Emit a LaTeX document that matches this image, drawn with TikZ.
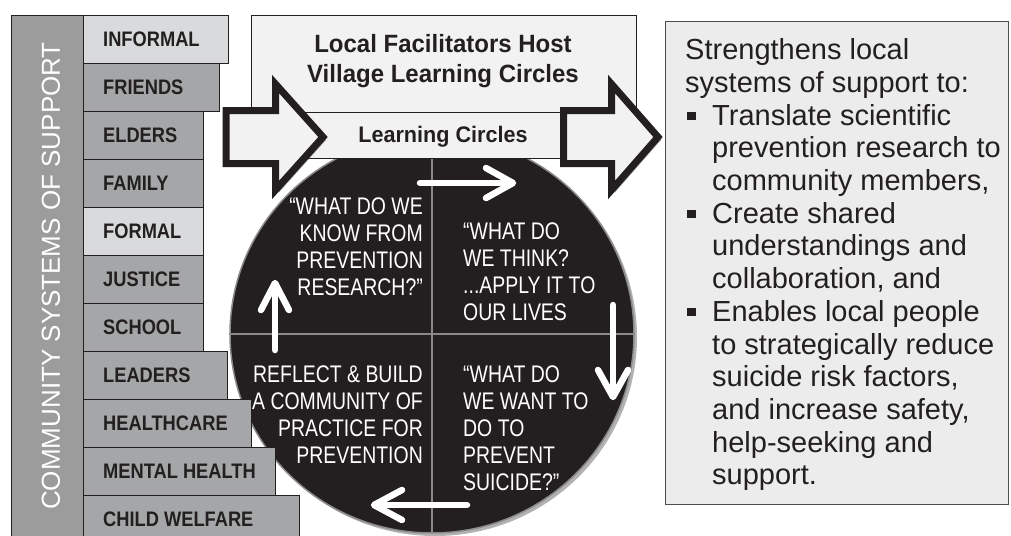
\documentclass[tikz,border=0pt]{standalone}
\usepackage{fontspec}
\setmainfont{Liberation Sans}
\newfontfamily\narrowfont[FakeStretch=0.81]{Liberation Sans}
\newfontfamily\condfont[FakeStretch=0.87]{Liberation Sans}
\newfontfamily\titlefont[FakeStretch=0.96]{Liberation Sans}
\usetikzlibrary{shapes.geometric,shadows}
\definecolor{ink}{HTML}{231F20}
\definecolor{barfill}{HTML}{9C9C9C}
\definecolor{tierdark}{HTML}{A5A6A8}
\definecolor{tierlight}{HTML}{D9DADB}
\definecolor{paper}{HTML}{F2F2F2}
\definecolor{boxfill}{HTML}{ECECEC}
\definecolor{divider}{HTML}{8A8A8A}
\newcommand\mybul{\makebox[27pt][l]{\hspace{2pt}\rule[5pt]{8.5pt}{8.5pt}}}
\newcommand\myind{\hspace*{27pt}}
\begin{document}
\begin{tikzpicture}[x=1pt,y=-1pt,
  tierbox/.style={draw=ink, line width=1.2pt, minimum height=48pt, inner sep=0pt, anchor=north west},
  tiertext/.style={anchor=west, inner sep=0pt, text=ink, font=\condfont\bfseries\fontsize{21}{24}\selectfont},
  quad/.style={text=white, inner sep=0pt, font=\narrowfont\fontsize{24}{27}\selectfont},
  loopar/.style={white, line width=6.5pt, line cap=round, line join=round},
  bigarrow/.style={fill=paper, draw=ink, line width=7pt, line join=miter,
     drop shadow={shadow xshift=3pt, shadow yshift=-3pt, opacity=0.35, fill=black}},
  panel/.style={draw=ink, line width=1.2pt, fill=paper, inner sep=0pt, anchor=north west}]
\useasboundingbox (0,0) rectangle (1011,535);
\fill[white] (0,0) rectangle (1011,535);

% left bar
\node[draw=ink, fill=barfill, line width=1.2pt, minimum width=72pt, minimum height=530pt, inner sep=0pt, anchor=north west] (bar) at (11,15) {};
\node[rotate=90, text=white, inner sep=0pt, font=\fontsize{26}{30}\selectfont] (bartext) at (51,276) {COMMUNITY SYSTEMS OF SUPPORT};

% circle
\node[ellipse, minimum width=404pt, minimum height=398pt, inner sep=0pt, fill=ink, draw=divider, line width=1.5pt,
  drop shadow={shadow xshift=3pt, shadow yshift=-3pt, opacity=0.3, fill=black}] (cyc) at (432,334) {};
\draw[divider, line width=1.5pt] (cyc.north) -- (cyc.south);
\draw[divider, line width=1.5pt] (cyc.west) -- (cyc.east);

\node[quad, align=right, anchor=north east] (q1) at (423,198) {“WHAT DO WE\\KNOW FROM\\PREVENTION\\RESEARCH?”};
\node[quad, align=left, anchor=north west] (q2) at (463,223) {“WHAT DO\\WE THINK?\\...APPLY IT TO\\OUR LIVES};
\node[quad, align=left, anchor=north west] (q3) at (463,366) {“WHAT DO\\WE WANT TO\\DO TO\\PREVENT\\SUICIDE?”};
\node[quad, align=right, anchor=north east] (q4) at (423,366) {REFLECT \& BUILD\\A COMMUNITY OF\\PRACTICE FOR\\PREVENTION};

% loop arrows
\draw[loopar] (420,183) -- (512,183);
\draw[loopar] (486,168) -- (513,183) -- (486,198);
\draw[loopar] (613,305) -- (613,396);
\draw[loopar] (598,370) -- (613,397) -- (628,370);
\draw[loopar] (467,505) -- (375,505);
\draw[loopar] (402,490) -- (374,505) -- (402,520);
\draw[loopar] (275,350) -- (275,284);
\draw[loopar] (261,310) -- (275,283) -- (289,310);

% tiers
\foreach \nm/\lbl/\yy/\ww/\ff in {inf/INFORMAL/15/145/tierlight, fri/FRIENDS/63/136/tierdark,
  eld/ELDERS/111/120/tierdark, fam/FAMILY/159/120/tierdark, frm/FORMAL/207/120/tierlight,
  jus/JUSTICE/255/120/tierdark, sch/SCHOOL/303/120/tierdark, lea/LEADERS/351/144/tierdark,
  hea/HEALTHCARE/399/168/tierdark, men/MENTAL HEALTH/447/192/tierdark, chi/CHILD WELFARE/495/216/tierdark}
{
  \node[tierbox, fill=\ff, minimum width=\ww pt] (\nm) at (83,\yy) {};
  \node[tiertext] (\nm-t) at ([xshift=20pt]\nm.west) {\lbl};
}

% top panel and band
\node[panel, minimum width=385pt, minimum height=97pt] (top) at (251,15) {};
\node[text=ink, align=center, inner sep=0pt, font=\titlefont\bfseries\fontsize{25}{30}\selectfont] (title) at (443,61) {Local Facilitators Host\\Village Learning Circles};
\node[panel, minimum width=385pt, minimum height=46pt] (band) at (251,112) {};
\node[text=ink, inner sep=0pt, font=\titlefont\bfseries\fontsize{22.5}{26}\selectfont] (bandtext) at (443,137) {Learning Circles};

% big arrows
\draw[bigarrow] (226,110.5) -- (275.5,110.5) -- (275.5,84) -- (323,137) -- (275.5,190) -- (275.5,163.5) -- (226,163.5) -- cycle;
\draw[bigarrow] (563.5,110.5) -- (611.5,110.5) -- (611.5,84) -- (658,137) -- (611.5,190) -- (611.5,163.5) -- (563.5,163.5) -- cycle;

% right box
\node[draw=black!70, fill=boxfill, line width=1.2pt, minimum width=343pt, minimum height=483pt, inner sep=0pt, anchor=north west] (rb) at (665,21) {};
\node[anchor=north west, align=left, inner sep=0pt, text=ink, font=\fontsize{29}{32.7}\selectfont] (rt) at (685,38.5)
{Strengthens local\\
systems of support to:\\
\mybul Translate scientific\\
\myind prevention research to\\
\myind community members,\\
\mybul Create shared\\
\myind understandings and\\
\myind collaboration, and\\
\mybul Enables local people\\
\myind to strategically reduce\\
\myind suicide risk factors,\\
\myind and increase safety,\\
\myind help-seeking and\\
\myind support.};
\end{tikzpicture}
\end{document}
